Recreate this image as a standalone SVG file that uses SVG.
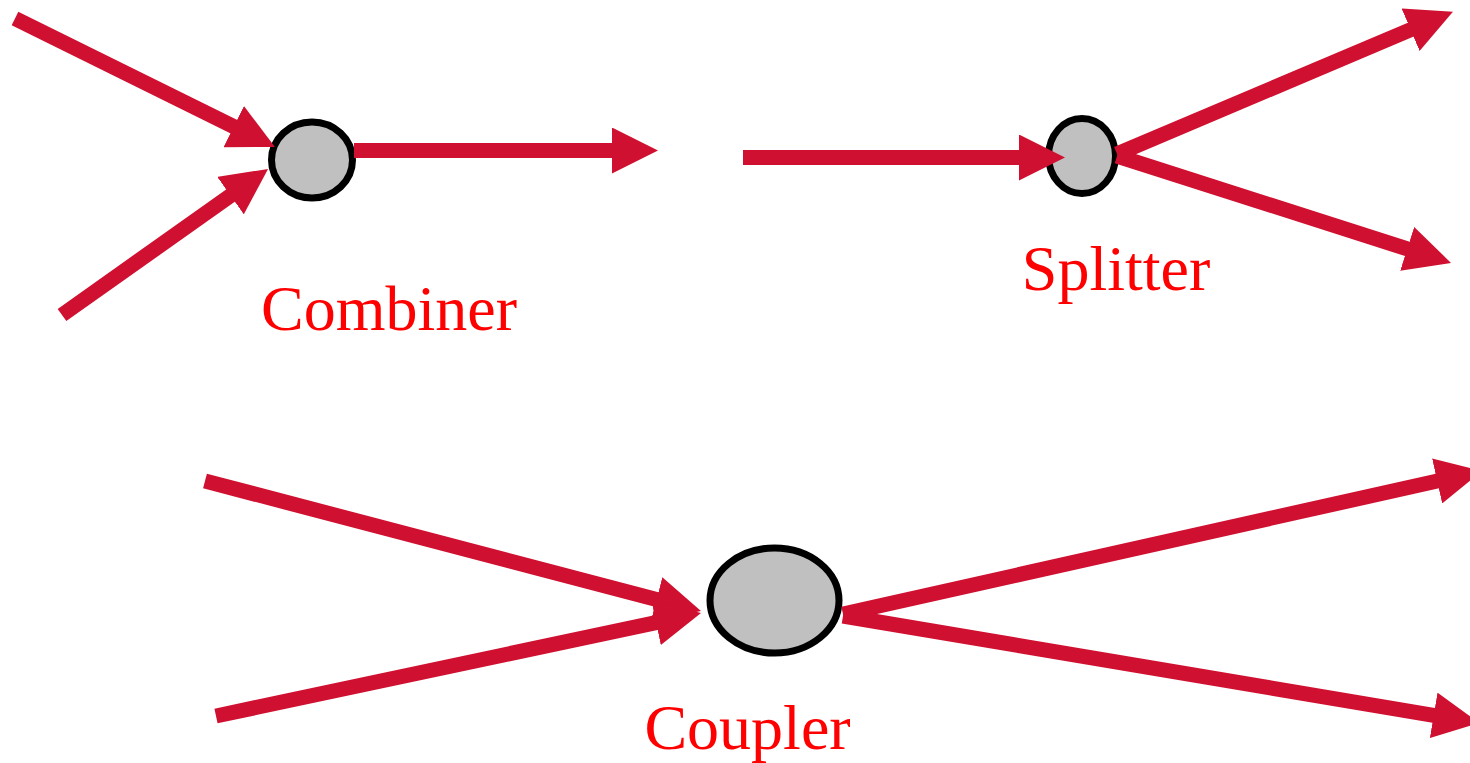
<svg xmlns="http://www.w3.org/2000/svg" width="1470" height="763" viewBox="0 0 1470 763">
<style>
.node{fill:#c0c0c0;stroke:#000;stroke-width:7}
.conn{stroke:#d01030;stroke-width:15;fill:none;marker-end:url(#head)}
.label{font-family:"Liberation Serif","Times New Roman",serif;font-size:64px;fill:#ff0000;text-anchor:middle}
</style>
<defs>
<marker id="head" viewBox="0 0 46 46" markerWidth="46" markerHeight="46" refX="6" refY="23" orient="auto" markerUnits="userSpaceOnUse">
<path d="M0,0 L46,23 L0,46 Z" fill="#d01030"/>
</marker>
</defs>
<rect width="1470" height="763" fill="#fff"/>
<g id="combiner">
<ellipse class="node" cx="312" cy="160" rx="40.5" ry="38"/>
<text class="label" x="389" y="330">Combiner</text>
</g>
<g id="splitter">
<ellipse class="node" cx="1082" cy="156" rx="33.5" ry="37.5"/>
<text class="label" x="1116" y="290">Splitter</text>
</g>
<g id="coupler">
<ellipse class="node" cx="774.5" cy="600.5" rx="64.5" ry="52.5"/>
<text class="label" x="747.5" y="749">Coupler</text>
</g>
<g id="connectors">
<line class="conn" x1="15" y1="18.5" x2="239.1" y2="129.3"/>
<line class="conn" x1="62" y1="315" x2="235.4" y2="192.1"/>
<line class="conn" x1="354" y1="150.5" x2="618" y2="150.5"/>
<line class="conn" x1="743" y1="157.5" x2="1025" y2="157.5"/>
<line class="conn" x1="1117" y1="154" x2="1416.1" y2="27.4"/>
<line class="conn" x1="1117" y1="156" x2="1412.9" y2="250.7"/>
<line class="conn" x1="205" y1="481" x2="662.3" y2="600.9"/>
<line class="conn" x1="216" y1="716" x2="661.9" y2="621.3"/>
<line class="conn" x1="843" y1="614" x2="1443" y2="479.7"/>
<line class="conn" x1="843" y1="616" x2="1439.6" y2="716.3"/>
</g>
</svg>
